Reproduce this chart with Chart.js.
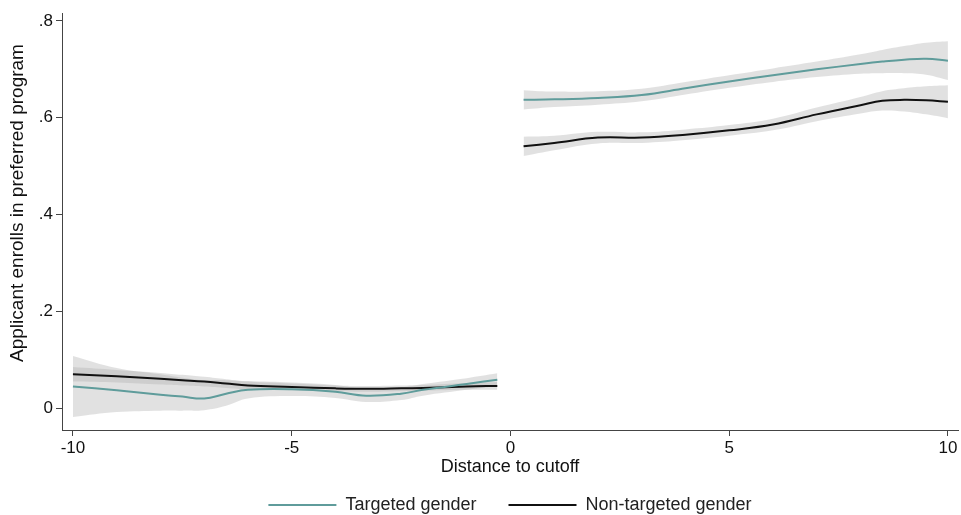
<!DOCTYPE html>
<html>
<head>
<meta charset="utf-8">
<script src="https://cdn.jsdelivr.net/npm/chart.js@4"></script>
<style>
  html, body { margin: 0; padding: 0; background: #fff; }
  #wrap { width: 961px; height: 515px; }
</style>
</head>
<body>
<div id="wrap"><canvas id="rdChart"></canvas></div>
<script>
// distance to cutoff, left and right of the threshold
const xLeft  = [-10, -9, -8, -7.5, -7, -6.5, -6, -5, -4, -3.3, -2.5, -2, -1, -0.3];
const xRight = [0.3, 1, 2, 3, 4, 5, 6, 7, 8, 8.5, 9, 9.5, 10];

// targeted gender (teal)
const targetedLeft   = [0.045, 0.037, 0.028, 0.024, 0.020, 0.030, 0.038, 0.039, 0.034, 0.026, 0.030, 0.038, 0.050, 0.059];
const targetedLeftHi = [0.108, 0.083, 0.070, 0.063, 0.058, 0.058, 0.056, 0.053, 0.048, 0.040, 0.043, 0.050, 0.062, 0.072];
const targetedLeftLo = [-0.018, -0.008, -0.005, -0.005, -0.004, 0.005, 0.020, 0.025, 0.021, 0.013, 0.017, 0.026, 0.038, 0.046];
const targetedRight   = [0.637, 0.638, 0.641, 0.647, 0.661, 0.675, 0.688, 0.700, 0.711, 0.716, 0.720, 0.722, 0.718];
const targetedRightHi = [0.657, 0.654, 0.655, 0.660, 0.674, 0.688, 0.702, 0.716, 0.731, 0.740, 0.748, 0.755, 0.758];
const targetedRightLo = [0.617, 0.622, 0.627, 0.634, 0.648, 0.662, 0.674, 0.684, 0.691, 0.692, 0.692, 0.689, 0.678];

// non-targeted gender (black)
const nonTargetedLeft   = [0.070, 0.066, 0.061, 0.058, 0.055, 0.051, 0.047, 0.044, 0.041, 0.040, 0.041, 0.042, 0.045, 0.046];
const nonTargetedLeftHi = [0.085, 0.079, 0.073, 0.069, 0.065, 0.060, 0.055, 0.051, 0.047, 0.046, 0.047, 0.048, 0.052, 0.054];
const nonTargetedLeftLo = [0.055, 0.053, 0.049, 0.047, 0.045, 0.042, 0.039, 0.037, 0.035, 0.034, 0.035, 0.036, 0.038, 0.038];
const nonTargetedRight   = [0.541, 0.548, 0.559, 0.559, 0.565, 0.574, 0.586, 0.607, 0.626, 0.635, 0.637, 0.636, 0.633];
const nonTargetedRightHi = [0.561, 0.563, 0.571, 0.570, 0.576, 0.585, 0.598, 0.621, 0.643, 0.655, 0.661, 0.665, 0.667];
const nonTargetedRightLo = [0.521, 0.533, 0.547, 0.548, 0.554, 0.563, 0.574, 0.593, 0.609, 0.615, 0.613, 0.607, 0.599];

const xTicks = [-10, -5, 0, 5, 10];
const yTicks = [0, 0.2, 0.4, 0.6, 0.8];
const yTitle = 'Applicant enrolls in preferred program';
const xTitle = 'Distance to cutoff';

const TEAL = '#5f9c9b';
const BLACK = '#111111';
const BAND = 'rgba(175, 175, 175, 0.38)';
const FAMILY = '"Liberation Sans", Arial, sans-serif';
const FONT = { family: FAMILY, size: 18 };
const TICK_FONT = { family: FAMILY, size: 17 };

const pts = (xs, ys) => xs.map((x, i) => ({ x: x, y: ys[i] }));

// bands get a higher order so they are painted underneath the lines
function band(xs, lo, hi) {
    return [
        { data: pts(xs, lo), borderWidth: 0, pointRadius: 0, fill: false, tension: 0.4, backgroundColor: BAND, order: 1 },
        { data: pts(xs, hi), borderWidth: 0, pointRadius: 0, fill: '-1', tension: 0.4, backgroundColor: BAND, order: 1 },
    ];
}

function line(label, xs, ys, color) {
    return { label: label, data: pts(xs, ys), borderColor: color, backgroundColor: color, borderWidth: 2,
             pointRadius: 0, fill: false, tension: 0.4, order: 0 };
}

const datasets = [].concat(
    band(xLeft, targetedLeftLo, targetedLeftHi),
    band(xLeft, nonTargetedLeftLo, nonTargetedLeftHi),
    band(xRight, targetedRightLo, targetedRightHi),
    band(xRight, nonTargetedRightLo, nonTargetedRightHi),
    [
        line('Targeted gender', xLeft, targetedLeft, TEAL),
        line('Non-targeted gender', xLeft, nonTargetedLeft, BLACK),
        line('Targeted gender', xRight, targetedRight, TEAL),
        line('Non-targeted gender', xRight, nonTargetedRight, BLACK),
    ]
);

const fmtY = v => (v === 0 ? '0' : String(Math.round(v * 10) / 10).replace('0.', '.'));

// y title sits a little above the middle of the axis, like the original
const yTitlePlugin = {
    id: 'yTitle',
    afterDraw(chart) {
        const ctx = chart.ctx;
        ctx.save();
        ctx.font = '19px ' + FAMILY;
        ctx.fillStyle = '#111';
        ctx.textAlign = 'center';
        ctx.textBaseline = 'middle';
        ctx.translate(18, 203);
        ctx.rotate(-Math.PI / 2);
        ctx.fillText(yTitle, 0, 0);
        ctx.restore();
    },
};

new Chart(document.getElementById('rdChart'), {
    type: 'line',
    data: { datasets: datasets },
    plugins: [yTitlePlugin],
    options: {
        responsive: true,
        maintainAspectRatio: false,
        animation: false,
        layout: { padding: { top: 10, right: 3, left: 0, bottom: -9 } },
        plugins: {
            tooltip: { enabled: false },
            legend: {
                position: 'bottom',
                fullSize: false,
                labels: {
                    font: FONT,
                    color: '#222',
                    usePointStyle: true,
                    pointStyle: 'line',
                    pointStyleWidth: 68,
                    boxHeight: 2,
                    padding: 32,
                    filter: (item) => item.datasetIndex === 8 || item.datasetIndex === 9,
                },
            },
        },
        scales: {
            x: {
                type: 'linear',
                min: -10.25,
                max: 10.23,
                afterBuildTicks: s => { s.ticks = xTicks.map(v => ({ value: v })); },
                afterFit: s => { s.height = 34; },
                ticks: { font: TICK_FONT, color: '#111', padding: 2, callback: v => String(v) },
                grid: { drawOnChartArea: false, drawTicks: true, tickLength: 6, color: '#444' },
                border: { display: true, color: '#444', width: 1 },
                title: { display: true, text: xTitle, font: FONT, color: '#111', padding: { top: 0, bottom: -14 } },
            },
            y: {
                type: 'linear',
                min: -0.045,
                max: 0.816,
                afterBuildTicks: s => { s.ticks = yTicks.map(v => ({ value: v })); },
                afterFit: s => { s.width = 62; },
                ticks: { font: TICK_FONT, color: '#111', padding: 3, callback: fmtY },
                grid: { drawOnChartArea: false, drawTicks: true, tickLength: 6, color: '#444' },
                border: { display: true, color: '#444', width: 1 },
                title: { display: false },
            },
        },
    },
});
</script>
</body>
</html>
